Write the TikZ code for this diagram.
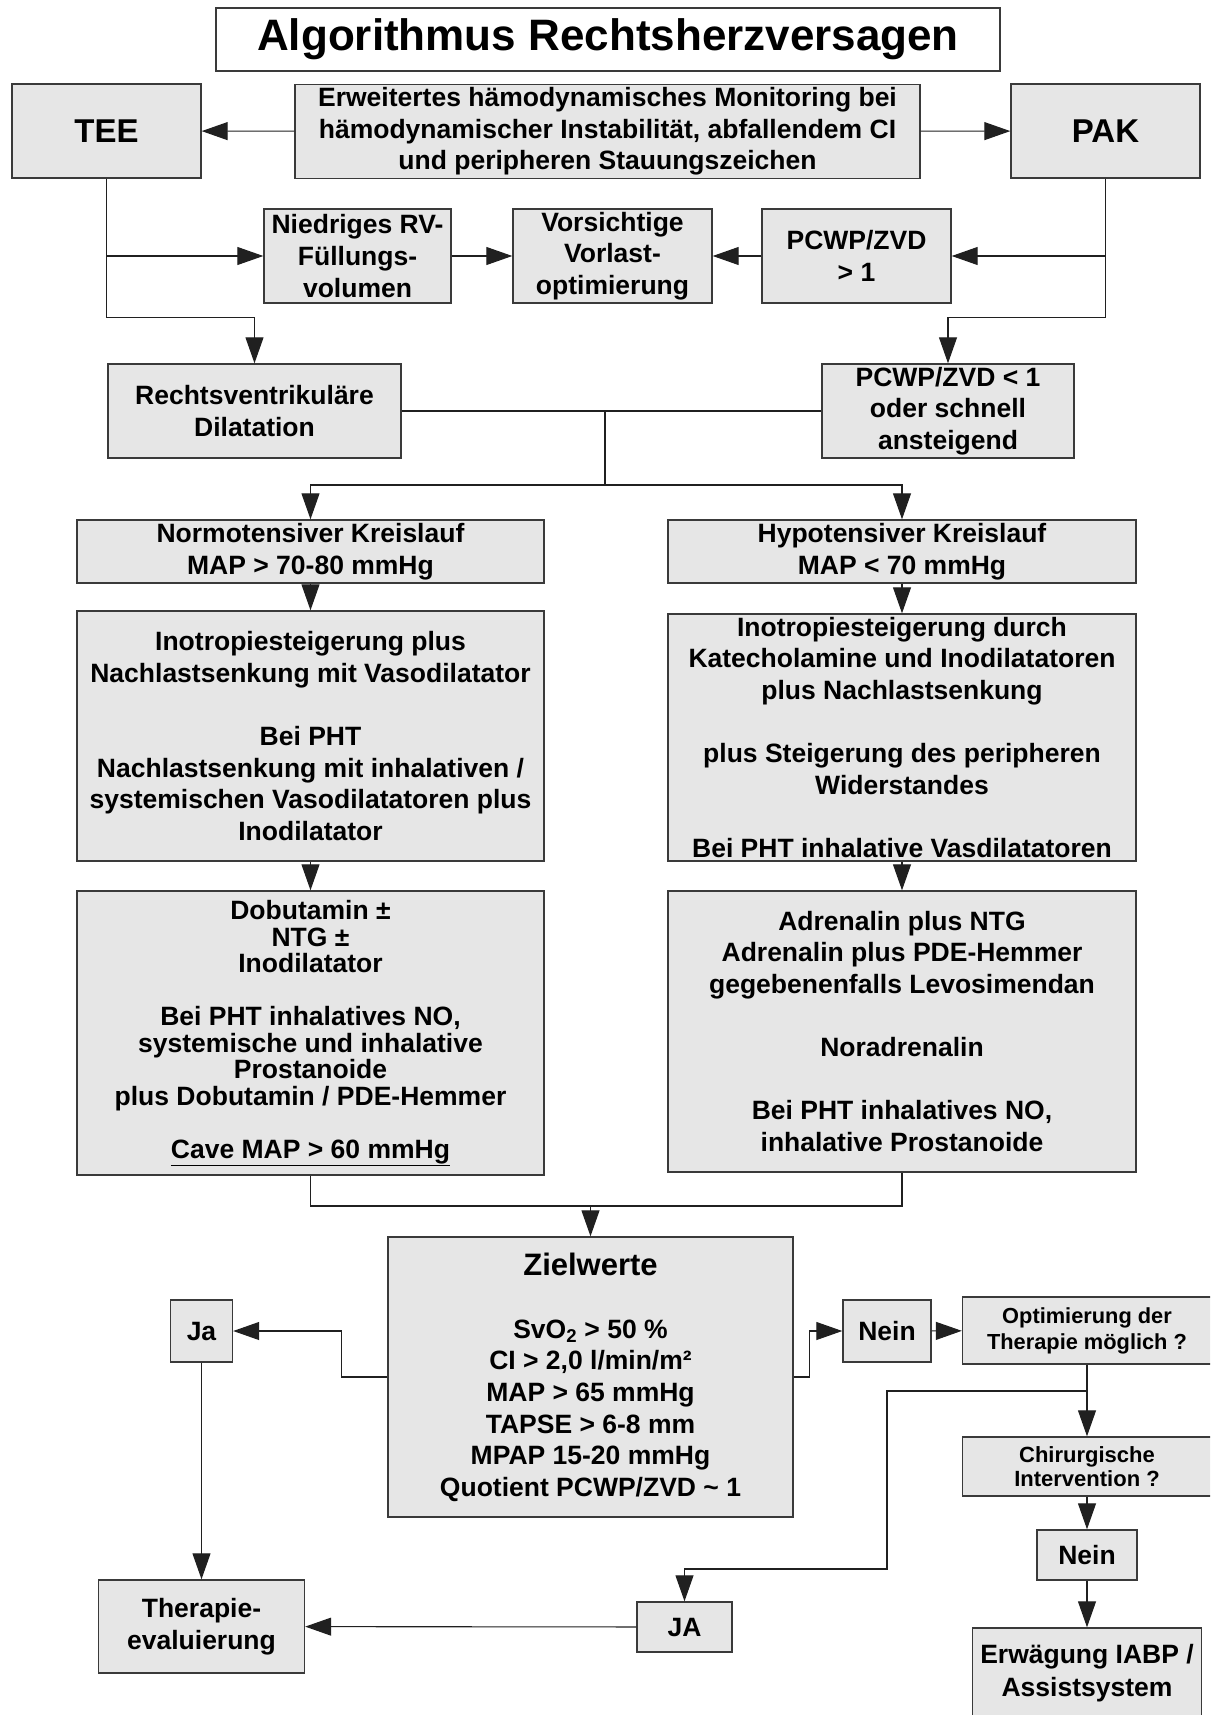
\documentclass[tikz,border=0pt]{standalone}
\usepackage{fontspec}
\setmainfont{Liberation Sans}
\usetikzlibrary{arrows.meta}
\definecolor{boxfill}{HTML}{E6E6E6}
\definecolor{boxline}{HTML}{3A3A3A}
\definecolor{conn}{HTML}{202020}
\tikzset{
  box/.style={draw=boxline, fill=boxfill, line width=1.4pt, inner sep=0pt, align=center,
    font=\fontsize{26.5}{31.6}\selectfont\bfseries},
  titlebox/.style={draw=boxline, fill=white, line width=1.2pt, inner sep=0pt, align=center,
    font=\fontsize{44}{50}\selectfont\bfseries},
  line/.style={draw=conn, line width=1.1pt},
  arr/.style={line, -{Triangle[length=26pt,width=18pt]}},
  sz/.style 2 args={minimum width=#1pt, minimum height=#2pt},
}
\begin{document}
\begin{tikzpicture}[x=1pt,y=-1pt]
\useasboundingbox (0,0) rectangle (1210,1715);
\begin{scope}
\clip (0,0) rectangle (1210,1715);
% title
\node[titlebox, sz={784}{63}] (title) at (608,39.5) {Algorithmus Rechtsherzversagen};
% row 1
\node[box, sz={189}{94}, font=\fontsize{33}{38}\selectfont\bfseries] (tee) at (106.5,131) {TEE};
\node[box, sz={625}{94}] (mon) at (607.5,131.5) {Erweitertes hämodynamisches Monitoring bei\\hämodynamischer Instabilität, abfallendem CI\\und peripheren Stauungszeichen};
\node[box, sz={189}{94}, font=\fontsize{33}{38}\selectfont\bfseries] (pak) at (1105.5,131) {PAK};
% row 2
\node[box, sz={187}{94}] (nied) at (357.5,256) {Niedriges RV-\\Füllungs-\\volumen};
\node[box, sz={199}{94}] (vors) at (612.5,256) {Vorsichtige\\Vorlast-\\optimierung};
\node[box, sz={189}{94}] (pcwpa) at (856.5,256) {PCWP/ZVD\\> 1};
% row 3
\node[box, sz={293}{94}] (rv) at (254.5,411) {Rechtsventrikuläre\\Dilatation};
\node[box, sz={252}{94}] (pcwpb) at (948,411) {PCWP/ZVD < 1\\oder schnell\\ansteigend};
% row 4
\node[box, sz={467}{63}] (normo) at (310.5,551.5) {Normotensiver Kreislauf\\MAP > 70-80 mmHg};
\node[box, sz={468}{63}] (hypo) at (902,551.5) {Hypotensiver Kreislauf\\MAP < 70 mmHg};
% row 5
\node[box, sz={467}{250}] (lone) at (310.5,736) {Inotropiesteigerung plus\\Nachlastsenkung mit Vasodilatator\\[31.6pt]Bei PHT\\Nachlastsenkung mit inhalativen /\\systemischen Vasodilatatoren plus\\Inodilatator};
\node[box, sz={468}{247}] (rone) at (902,737.5) {Inotropiesteigerung durch\\Katecholamine und Inodilatatoren\\plus Nachlastsenkung\\[31.6pt]plus Steigerung des peripheren\\Widerstandes\\[31.6pt]Bei PHT inhalative Vasdilatatoren};
% row 6
\node[box, sz={467}{284}, font=\fontsize{26.5}{26.5}\selectfont\bfseries] (ltwo) at (310.5,1033) {Dobutamin ±\\NTG ±\\Inodilatator\\[26.5pt]Bei PHT inhalatives NO,\\systemische und inhalative\\Prostanoide\\plus Dobutamin / PDE-Hemmer\\[26.5pt]\underline{Cave MAP > 60 mmHg}};
\node[box, sz={468}{281}] (rtwo) at (902,1031.5) {Adrenalin plus NTG\\Adrenalin plus PDE-Hemmer\\gegebenenfalls Levosimendan\\[31.6pt]Noradrenalin\\[31.6pt]Bei PHT inhalatives NO,\\inhalative Prostanoide};
% Zielwerte
\node[box, sz={405}{280}] (ziel) at (590.5,1377) {{\fontsize{31}{31}\selectfont Zielwerte}\\[31.6pt]SvO\textsubscript{2} > 50 \%\\CI > 2,0 l/min/m²\\MAP > 65 mmHg\\TAPSE > 6-8 mm\\MPAP 15-20 mmHg\\Quotient PCWP/ZVD \char"007E{} 1};
\node[box, sz={62}{62}] (ja) at (201.5,1331) {Ja};
\node[box, sz={88}{62}] (nein) at (887,1331) {Nein};
\node[box, sz={249}{67}, font=\fontsize{21.8}{26}\selectfont\bfseries] (opt) at (1087,1330.5) {Optimierung der\\Therapie möglich ?};
\node[box, sz={249}{59}, font=\fontsize{22}{24}\selectfont\bfseries] (chir) at (1087,1466.5) {Chirurgische\\Intervention ?};
\node[box, sz={100}{50}] (neinb) at (1087,1555) {Nein};
\node[box, sz={229}{90}, font=\fontsize{26.5}{33}\selectfont\bfseries] (erw) at (1087,1673) {Erwägung IABP /\\Assistsystem};
\node[box, sz={95}{50}] (jab) at (684.5,1627) {JA};
\node[box, sz={206}{93}] (ther) at (201.5,1626.5) {Therapie-\\evaluierung};
% connectors
\draw[arr] (mon) -- (tee);
\draw[arr] (mon) -- (pak);
\draw[arr] (tee) |- (nied);
\draw[arr] (tee.south) -- ++(0,139) -| (rv.north);
\draw[arr] (nied) -- (vors);
\draw[arr] (pcwpa) -- (vors);
\draw[arr] (pak) |- (pcwpa);
\draw[arr] (pak.south) -- ++(0,139) -| (pcwpb.north);
\coordinate (ma) at (605,411);
\coordinate (mb) at (605,485);
\draw[line] (rv) -- (pcwpb);
\draw[line] (ma) -- (mb);
\draw[arr] (mb) -| (normo.north);
\draw[arr] (mb) -| (hypo.north);
\draw[arr] (normo) -- (lone);
\draw[arr] (hypo) -- (rone);
\draw[arr] (lone) -- (ltwo);
\draw[arr] (rone) -- (rtwo);
\coordinate (mc) at (590.5,1206);
\draw[line] (ltwo.south) |- (mc) -| (rtwo.south);
\draw[arr] (mc) -- (ziel.north);
\draw[arr] (ziel.west) -- ++(-46,0) |- (ja.east);
\draw[arr] (ziel.east) -- ++(16,0) |- (nein.west);
\draw[arr] (nein) -- (opt);
\draw[arr] (opt) -- (chir);
\coordinate (ba) at (1087,1391);
\coordinate (bb) at (887,1391);
\coordinate (bc) at (887,1569);
\draw[arr] (ba) -- (bb) -- (bc) -| (jab.north);
\draw[arr] (chir) -- (neinb);
\draw[arr] (neinb) -- (erw);
\draw[arr] (jab) -- (ther);
\draw[arr] (ja) -- (ther);
\end{scope}
\end{tikzpicture}
\end{document}
